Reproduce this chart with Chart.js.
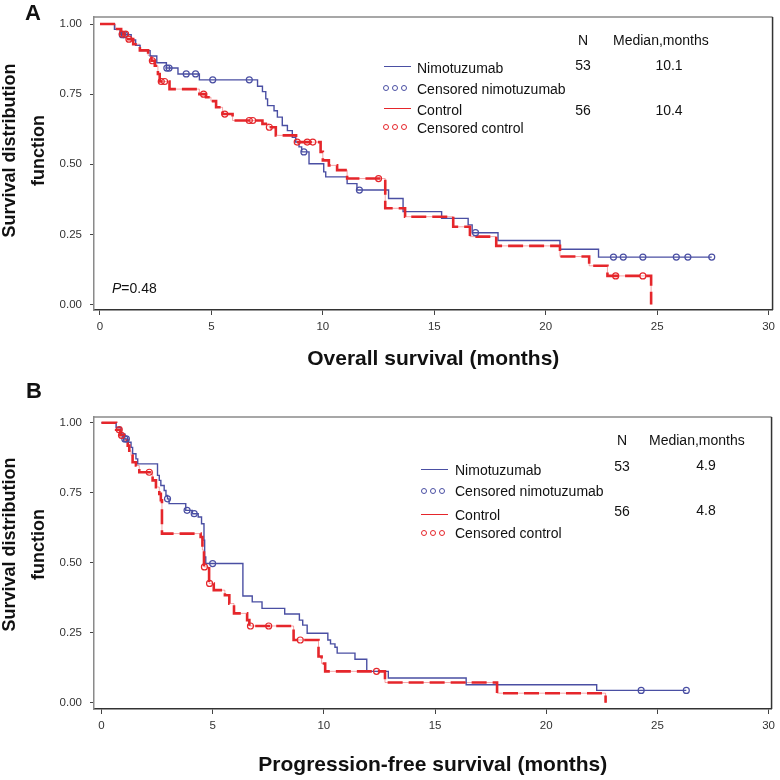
<!DOCTYPE html>
<html>
<head>
<meta charset="utf-8">
<title>Kaplan-Meier curves</title>
<script src="https://cdn.jsdelivr.net/npm/chart.js@4.4.1/dist/chart.umd.min.js"></script>
<style>
  body { margin: 0; background: #fff; }
  #wrap { position: relative; width: 780px; height: 780px; font-family: "Liberation Sans", Arial, sans-serif; color: #111; }
  canvas { position: absolute; left: 0; }
  #cvA { top: 0; }
  #cvB { top: 400px; }
  .lbl { position: absolute; font-size: 22px; font-weight: bold; line-height: 1; }
  .ytitle { position: absolute; width: 220px; height: 57px; font-size: 18px; font-weight: bold;
            line-height: 28.5px; text-align: center; white-space: nowrap; transform: rotate(-90deg); }
  .t { position: absolute; font-size: 14px; line-height: 1; white-space: nowrap; transform: translate(0, -50%); }
  .c { transform: translate(-50%, -50%); }
  .ln { position: absolute; width: 27px; height: 0; border-top: 1.5px solid; }
  .dots { position: absolute; height: 6px; transform: translate(0, -50%); }
  .dots span { display: inline-block; width: 4px; height: 4px; border: 1.3px solid; border-radius: 50%; margin-right: 3px; vertical-align: top; }
</style>
</head>
<body>
<div id="wrap">
  <canvas id="cvA" width="780" height="400"></canvas>
  <canvas id="cvB" width="780" height="380"></canvas>

  <div class="lbl" style="left:25px; top:2px;">A</div>
  <div class="lbl" style="left:26px; top:380px;">B</div>

  <div class="ytitle" style="left:-87px; top:122px;">Survival distribution<br>function</div>
  <div class="ytitle" style="left:-87px; top:516px;">Survival distribution<br>function</div>

  <!-- panel A legend and table -->
  <div class="ln" style="left:384px; top:66px; border-color:#4a4fa3;"></div>
  <div class="t" style="left:417px; top:68px;">Nimotuzumab</div>
  <div class="dots" style="left:383px; top:88px; color:#4a4fa3;"><span></span><span></span><span></span></div>
  <div class="t" style="left:417px; top:89px;">Censored nimotuzumab</div>
  <div class="ln" style="left:384px; top:108px; border-color:#e5262b;"></div>
  <div class="t" style="left:417px; top:110px;">Control</div>
  <div class="dots" style="left:383px; top:127px; color:#e5262b;"><span></span><span></span><span></span></div>
  <div class="t" style="left:417px; top:128px;">Censored control</div>
  <div class="t c" style="left:583px; top:40px;">N</div>
  <div class="t" style="left:613px; top:40px;">Median,months</div>
  <div class="t c" style="left:583px; top:65px;">53</div>
  <div class="t c" style="left:669px; top:65px;">10.1</div>
  <div class="t c" style="left:583px; top:110px;">56</div>
  <div class="t c" style="left:669px; top:110px;">10.4</div>
  <div class="t" style="left:112px; top:288px;"><i>P</i>=0.48</div>

  <!-- panel B legend and table -->
  <div class="ln" style="left:421px; top:469px; border-color:#4a4fa3;"></div>
  <div class="t" style="left:455px; top:470px;">Nimotuzumab</div>
  <div class="dots" style="left:421px; top:491px; color:#4a4fa3;"><span></span><span></span><span></span></div>
  <div class="t" style="left:455px; top:491px;">Censored nimotuzumab</div>
  <div class="ln" style="left:421px; top:514px; border-color:#e5262b;"></div>
  <div class="t" style="left:455px; top:515px;">Control</div>
  <div class="dots" style="left:421px; top:533px; color:#e5262b;"><span></span><span></span><span></span></div>
  <div class="t" style="left:455px; top:533px;">Censored control</div>
  <div class="t c" style="left:622px; top:440px;">N</div>
  <div class="t" style="left:649px; top:440px;">Median,months</div>
  <div class="t c" style="left:622px; top:466px;">53</div>
  <div class="t c" style="left:706px; top:465px;">4.9</div>
  <div class="t c" style="left:622px; top:511px;">56</div>
  <div class="t c" style="left:706px; top:510px;">4.8</div>
</div>

<script>
const xTicks = [0, 5, 10, 15, 20, 25, 30];
const yTicks = [0, 0.25, 0.5, 0.75, 1];

// A - overall survival, nimotuzumab arm (time in months, survival after the step)
const osNimoT = [0, 0.65, 0.9, 1.4, 1.6, 1.8, 2.25, 2.55, 2.98, 3.5, 4.46, 7.07, 7.29, 7.44, 7.52, 7.81, 7.96, 8.18, 8.41, 8.63, 8.78, 8.93, 9.05, 9.38, 10.04, 10.13, 11.09, 11.53, 12.95, 13.6, 15.33, 16.52, 16.7, 17.86, 20.64, 22.37, 27.45];
const osNimoS = [1, 0.981, 0.962, 0.943, 0.924, 0.905, 0.886, 0.862, 0.843, 0.822, 0.801, 0.778, 0.759, 0.733, 0.709, 0.691, 0.668, 0.638, 0.62, 0.596, 0.579, 0.562, 0.544, 0.502, 0.473, 0.455, 0.431, 0.408, 0.378, 0.331, 0.307, 0.284, 0.256, 0.228, 0.197, 0.169, 0.169];
const osNimoCensT = [1.0, 1.1, 3.0, 3.1, 3.87, 4.29, 5.06, 6.7, 9.15, 11.64, 16.85, 23.04, 23.48, 24.36, 25.86, 26.38, 27.45];
const osNimoCensS = [0.962, 0.962, 0.843, 0.843, 0.822, 0.822, 0.801, 0.801, 0.544, 0.408, 0.256, 0.169, 0.169, 0.169, 0.169, 0.169, 0.169];

// A - overall survival, control arm
const osCtrlT = [0, 0.7, 0.95, 1.2, 1.49, 1.79, 2.16, 2.31, 2.46, 2.6, 2.68, 3.12, 4.46, 4.76, 4.98, 5.21, 5.5, 5.95, 7.29, 7.59, 7.89, 8.8, 9.9, 10.0, 10.27, 10.64, 11.09, 12.8, 13.69, 15.85, 16.6, 17.78, 20.64, 21.95, 22.77, 24.73];
const osCtrlS = [1, 0.982, 0.964, 0.946, 0.928, 0.906, 0.888, 0.869, 0.851, 0.822, 0.795, 0.768, 0.75, 0.739, 0.725, 0.703, 0.679, 0.656, 0.644, 0.632, 0.603, 0.579, 0.544, 0.514, 0.496, 0.479, 0.449, 0.343, 0.313, 0.277, 0.242, 0.209, 0.171, 0.138, 0.102, 0];
const osCtrlCensT = [1.0, 1.15, 1.3, 2.35, 2.75, 2.9, 4.65, 5.6, 6.7, 6.85, 7.6, 8.85, 9.3, 9.55, 12.5, 23.14, 24.36];
const osCtrlCensS = [0.964, 0.964, 0.946, 0.869, 0.795, 0.795, 0.75, 0.679, 0.656, 0.656, 0.632, 0.579, 0.579, 0.579, 0.449, 0.102, 0.102];

// B - progression-free survival, nimotuzumab arm
const pfsNimoT = [0, 0.66, 0.88, 1.05, 1.18, 1.33, 1.4, 1.55, 1.63, 2.52, 2.6, 2.67, 2.82, 2.9, 2.97, 3.04, 3.79, 4.09, 4.35, 4.5, 4.61, 4.64, 4.69, 6.36, 6.78, 7.22, 8.24, 8.9, 9.05, 9.25, 10.18, 10.3, 10.5, 10.6, 11.4, 11.93, 12.9, 16.4, 22.27, 26.3];
const pfsNimoS = [1, 0.983, 0.96, 0.942, 0.93, 0.912, 0.889, 0.871, 0.853, 0.812, 0.794, 0.776, 0.758, 0.74, 0.728, 0.711, 0.687, 0.675, 0.663, 0.639, 0.58, 0.521, 0.497, 0.381, 0.36, 0.337, 0.317, 0.295, 0.277, 0.248, 0.224, 0.21, 0.198, 0.177, 0.155, 0.112, 0.088, 0.064, 0.044, 0.044];
const pfsNimoCensT = [1.05, 1.12, 2.97, 3.85, 4.17, 5.0, 24.27, 26.3];
const pfsNimoCensS = [0.942, 0.942, 0.728, 0.687, 0.675, 0.497, 0.044, 0.044];

// B - progression-free survival, control arm
const pfsCtrlT = [0, 0.66, 0.85, 1.03, 1.18, 1.25, 1.33, 1.4, 1.55, 1.7, 2.3, 2.45, 2.6, 2.67, 2.72, 4.46, 4.54, 4.61, 4.84, 5.05, 5.55, 5.75, 5.96, 6.55, 6.65, 8.64, 9.76, 9.9, 10.06, 12.75, 17.79, 22.67];
const pfsCtrlS = [1, 0.975, 0.955, 0.936, 0.918, 0.9, 0.883, 0.859, 0.847, 0.823, 0.794, 0.77, 0.746, 0.723, 0.604, 0.592, 0.545, 0.485, 0.426, 0.402, 0.384, 0.354, 0.319, 0.295, 0.274, 0.224, 0.165, 0.14, 0.112, 0.072, 0.034, 0];
const pfsCtrlCensT = [0.8, 0.9, 2.15, 4.63, 4.86, 6.7, 7.52, 8.94, 12.37];
const pfsCtrlCensS = [0.975, 0.955, 0.823, 0.485, 0.426, 0.274, 0.274, 0.224, 0.112];

const blue = '#4a4fa3';
const red = '#e5262b';
const family = '"Liberation Sans", Arial, sans-serif';

const pts = (t, s) => t.map((v, i) => ({ x: v, y: s[i] }));

// top and right edges of the plot box
const frame = {
  id: 'frame',
  afterDraw(chart) {
    const { ctx, chartArea: a } = chart;
    ctx.save();
    ctx.lineWidth = 1.5;
    ctx.strokeStyle = '#8a8a8a';
    ctx.beginPath();
    ctx.moveTo(a.left, a.top);
    ctx.lineTo(a.right, a.top);
    ctx.stroke();
    ctx.strokeStyle = '#333';
    ctx.beginPath();
    ctx.moveTo(a.right, a.top);
    ctx.lineTo(a.right, a.bottom);
    ctx.stroke();
    ctx.restore();
  }
};

function drawPanel(id, p) {
  new Chart(document.getElementById(id), {
    type: 'scatter',
    data: {
      datasets: [
        { data: pts(p.ctrlT, p.ctrlS), showLine: true, stepped: true, borderColor: red,
          borderWidth: 2.6, borderDash: [15, 6], pointRadius: 0, order: 1 },
        { data: pts(p.ctrlT, p.ctrlS), showLine: true, stepped: true, borderColor: 'rgba(229,38,43,0.4)',
          borderWidth: 1, pointRadius: 0, order: 3 },
        { data: pts(p.ctrlCT, p.ctrlCS), showLine: false, pointRadius: 3, pointBorderWidth: 1.2,
          pointBorderColor: red, pointBackgroundColor: 'rgba(255,255,255,0)', order: 0 },
        { data: pts(p.nimoT, p.nimoS), showLine: true, stepped: true, borderColor: blue,
          borderWidth: 1.4, pointRadius: 0, order: 2 },
        { data: pts(p.nimoCT, p.nimoCS), showLine: false, pointRadius: 3, pointBorderWidth: 1.2,
          pointBorderColor: blue, pointBackgroundColor: 'rgba(255,255,255,0)', order: 0 }
      ]
    },
    options: {
      responsive: false,
      animation: false,
      layout: { padding: { top: 17, right: p.padRight, left: 0, bottom: 0 } },
      plugins: { legend: { display: false }, tooltip: { enabled: false } },
      scales: {
        x: {
          type: 'linear',
          min: p.xMin,
          max: p.xMax,
          afterBuildTicks: s => { s.ticks = xTicks.map(v => ({ value: v })); },
          afterFit: s => { s.height = p.xAxisH; },
          grid: { drawOnChartArea: false, tickLength: 5, color: '#444' },
          border: { display: true, color: '#333', width: 1.5 },
          ticks: { padding: 5, color: '#333', maxRotation: 0, font: { family, size: 11.5 } },
          title: {
            display: true, text: p.xTitle, color: '#111',
            font: { family, size: 21, weight: 'bold' },
            padding: { top: 0, bottom: p.xTitlePad }
          }
        },
        y: {
          type: 'linear',
          min: p.yMin,
          max: p.yMax,
          afterBuildTicks: s => { s.ticks = yTicks.map(v => ({ value: v })); },
          afterFit: s => { s.width = 94; },
          grid: { drawOnChartArea: false, tickLength: 4, color: '#444' },
          border: { display: true, color: '#8a8a8a', width: 1.5 },
          ticks: { padding: 8, color: '#333', font: { family, size: 11.5 },
                   callback: v => Number(v).toFixed(2) }
        }
      }
    },
    plugins: [frame]
  });
}

drawPanel('cvA', {
  nimoT: osNimoT, nimoS: osNimoS, nimoCT: osNimoCensT, nimoCS: osNimoCensS,
  ctrlT: osCtrlT, ctrlS: osCtrlS, ctrlCT: osCtrlCensT, ctrlCS: osCtrlCensS,
  xTitle: 'Overall survival (months)',
  xMin: -0.268, xMax: 30.179, yMin: -0.0196, yMax: 1.025,
  padRight: 4, xAxisH: 90, xTitlePad: 27.9
});

drawPanel('cvB', {
  nimoT: pfsNimoT, nimoS: pfsNimoS, nimoCT: pfsNimoCensT, nimoCS: pfsNimoCensS,
  ctrlT: pfsCtrlT, ctrlS: pfsCtrlS, ctrlCT: pfsCtrlCensT, ctrlCS: pfsCtrlCensS,
  xTitle: 'Progression-free survival (months)',
  xMin: -0.336, xMax: 30.134, yMin: -0.0225, yMax: 1.0204,
  padRight: 5, xAxisH: 71, xTitlePad: 2
});
</script>
</body>
</html>
